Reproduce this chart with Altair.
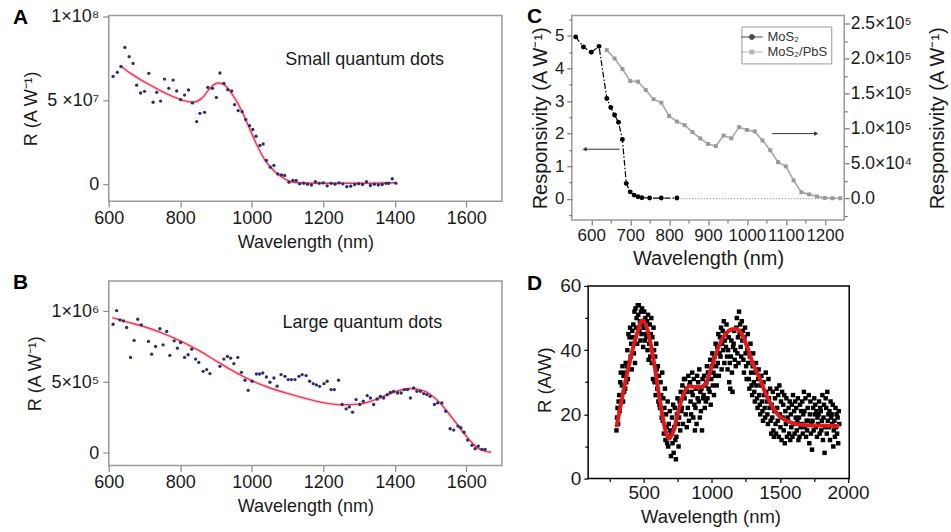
import altair as alt
import pandas as pd

FONT = "Liberation Sans"
INK = "#1a1a1a"

# ---------------- Panel A : small quantum dots ----------------
a_wavelength = [612, 624, 634, 645, 657, 668, 678, 689, 700, 712, 724, 734, 745, 756, 768, 780,
                790, 801, 812, 823, 834, 846, 855, 868, 877, 890, 901, 911, 922, 933, 944, 952,
                962, 973, 983, 994, 1003, 1012, 1023, 1032, 1041, 1052, 1062, 1073, 1083, 1092,
                1104, 1115, 1124, 1134, 1145, 1156, 1167, 1178, 1189, 1200, 1211, 1222, 1233,
                1244, 1255, 1266, 1277, 1288, 1299, 1310, 1321, 1332, 1343, 1354, 1365, 1376,
                1383, 1393, 1403]
a_resp_e7 = [6.41, 6.65, 7.0, 8.13, 7.58, 7.18, 5.89, 5.42, 5.52, 6.59, 4.87, 5.46, 4.94, 6.25,
             5.70, 6.19, 5.54, 5.03, 5.30, 5.60, 4.83, 3.72, 4.21, 4.27, 5.76, 5.70, 5.16, 6.61,
             5.99, 5.62, 5.54, 4.73, 4.37, 4.31, 3.84, 3.48, 3.25, 2.85, 2.30, 2.39, 1.41, 1.01,
             1.11, 0.61, 0.55, 0.52, 0.12, 0.22, 0.22, 0.02, 0.06, 0.0, -0.05, 0.15, 0.05, 0.08,
             -0.1, 0.05, 0.0, 0.08, 0.02, -0.15, -0.12, -0.02, 0.03, -0.02, 0.15, -0.08, 0.0,
             -0.05, -0.02, 0.05, 0.05, 0.32, 0.06]
a_fit_wavelength = [635, 660, 690, 720, 750, 780, 810, 835, 860, 885, 905, 920, 945, 970, 992,
                    1015, 1038, 1062, 1085, 1108, 1136, 1200, 1300, 1400]
a_fit_e7 = [7.0, 6.6, 6.2, 5.85, 5.5, 5.2, 4.97, 4.87, 5.1, 5.75, 6.02, 5.95, 5.36, 4.45, 3.4,
            2.3, 1.4, 0.8, 0.42, 0.16, 0.08, 0.05, 0.05, 0.08]

# ---------------- Panel B : large quantum dots ----------------
b_wavelength = [612, 622, 631, 641, 650, 661, 671, 681, 691, 711, 720, 731, 743, 752, 762, 771,
                783, 792, 801, 812, 822, 832, 843, 852, 864, 874, 883, 911, 922, 932, 941, 950,
                961, 971, 981, 990, 1001, 1013, 1022, 1031, 1041, 1051, 1062, 1071, 1082, 1093,
                1102, 1111, 1121, 1132, 1141, 1152, 1162, 1172, 1181, 1190, 1202, 1211, 1222,
                1231, 1243, 1253, 1264, 1273, 1282, 1292, 1302, 1312, 1323, 1332, 1341, 1351,
                1360, 1369, 1379, 1388, 1397, 1408, 1418, 1427, 1436, 1444, 1453, 1462, 1472,
                1481, 1490, 1499, 1511, 1520, 1532, 1543, 1555, 1565, 1577, 1585, 1594, 1604,
                1616, 1625, 1634, 1644, 1653]
b_resp_e6 = [0.908, 1.004, 0.939, 0.932, 0.885, 0.674, 0.794, 0.943, 0.904, 0.787, 0.697, 0.751,
             0.876, 0.763, 0.857, 0.688, 0.791, 0.739, 0.779, 0.674, 0.693, 0.732, 0.662, 0.639,
             0.576, 0.588, 0.560, 0.611, 0.662, 0.681, 0.669, 0.630, 0.674, 0.569, 0.513, 0.442,
             0.506, 0.557, 0.557, 0.564, 0.536, 0.499, 0.529, 0.471, 0.553, 0.541, 0.518, 0.518,
             0.518, 0.541, 0.553, 0.546, 0.506, 0.489, 0.48, 0.47, 0.489, 0.506, 0.447, 0.447,
             0.513, 0.342, 0.311, 0.325, 0.288, 0.377, 0.342, 0.365, 0.405, 0.388, 0.342, 0.381,
             0.40, 0.388, 0.412, 0.428, 0.435, 0.423, 0.423, 0.447, 0.447, 0.388, 0.459, 0.435,
             0.435, 0.419, 0.412, 0.40, 0.342, 0.353, 0.353, 0.295, 0.171, 0.162, 0.19, 0.178,
             0.147, 0.091, 0.054, 0.03, 0.049, 0.026, 0.026]
b_fit_wavelength = [610, 650, 700, 750, 800, 850, 900, 950, 1000, 1050, 1100, 1150, 1200, 1250,
                    1300, 1350, 1400, 1440, 1480, 1520, 1560, 1600, 1630, 1650, 1670]
b_fit_e6 = [0.955, 0.925, 0.89, 0.845, 0.79, 0.725, 0.65, 0.575, 0.51, 0.46, 0.42, 0.385, 0.355,
            0.34, 0.345, 0.38, 0.43, 0.455, 0.44, 0.37, 0.25, 0.12, 0.04, 0.015, 0.005]

# ---------------- Panel C : MoS2 vs MoS2/PbS ----------------
c_series = ["MoS\u2082", "MoS\u2082/PbS"]
c_mos2_wavelength = [560, 580, 600, 620, 640, 650, 660, 670, 680, 690, 700, 710, 720, 730, 750, 780, 820]
c_mos2_resp = [4.97, 4.66, 4.50, 4.68, 3.08, 2.80, 2.57, 2.35, 1.82, 0.47, 0.21, 0.11, 0.06, 0.03,
               0.02, 0.02, 0.02]
c_pbs_wavelength = [640, 660, 680, 700, 720, 740, 760, 780, 800, 820, 840, 860, 880, 900, 920, 940,
                    960, 980, 1000, 1020, 1040, 1060, 1080, 1100, 1120, 1140, 1160, 1180, 1200,
                    1220, 1240]
c_pbs_resp = [212000, 200000, 185000, 168000, 167000, 155000, 142000, 137000, 118000, 110000,
              105000, 95000, 86000, 78000, 75000, 90000, 86000, 102000, 98000, 96000, 83000,
              69000, 52000, 46000, 26000, 9000, 6000, 3000, 1000, 500, 500]
c_dotted_wavelength = [820, 1240]
c_dotted_resp = [0, 0]
c_arrow_start = [673, 1065]
c_arrow_end = [583, 1178]
c_arrow_level = [1.52, 2.0]
c_right_labels = {0: "0.0", 50000: "5.0\u00d710\u2074", 100000: "1.0\u00d710\u2075",
                  150000: "1.5\u00d710\u2075", 200000: "2.0\u00d710\u2075", 250000: "2.5\u00d710\u2075"}

# ---------------- Panel D : broadband scatter ----------------
d_offsets = [0, 4, 8, 12, 16]
d_columns = [
    (300, [15, 19, 22, 17, 24]), (320, [26, 21, 30, 33, 24]), (340, [29, 35, 24, 32, 27]),
    (360, [33, 28, 36, 30, 35]), (380, [40, 31, 45, 36, 44]), (400, [47, 38, 42, 34, 46]),
    (420, [44, 48, 39, 52, 36]), (440, [53, 47, 50, 42, 54]), (460, [51, 54, 46, 49, 43]),
    (480, [52, 45, 53, 48, 41]), (500, [47, 52, 43, 50, 45]), (520, [44, 49, 40, 51, 37]),
    (540, [42, 48, 38, 45, 50]), (560, [36, 44, 31, 47, 40]), (580, [30, 38, 26, 42, 34]),
    (600, [28, 35, 24, 32, 23]), (620, [22, 30, 26, 19, 33]), (640, [18, 25, 14, 22, 28]),
    (660, [12, 20, 16, 11, 24]), (680, [10, 17, 13, 21, 15]), (700, [7, 14, 19, 11, 23]),
    (720, [8, 16, 22, 12, 6]), (740, [13, 20, 25, 17, 10]), (760, [19, 24, 15, 27, 21]),
    (780, [22, 29, 17, 26, 31]), (800, [25, 31, 20, 28, 16]), (820, [27, 22, 32, 18, 29]),
    (840, [30, 24, 20, 27, 33]), (860, [26, 19, 31, 23, 15]), (880, [22, 28, 17, 32, 25]),
    (900, [30, 24, 34, 19, 27]), (920, [21, 28, 15, 31, 25]), (940, [26, 32, 22, 29, 24]),
    (960, [30, 35, 25, 33, 28]), (980, [33, 27, 37, 23, 31]), (1000, [35, 39, 29, 33, 26]),
    (1020, [38, 32, 42, 35, 29]), (1040, [41, 36, 45, 32, 39]), (1060, [44, 38, 47, 34, 42]),
    (1080, [46, 40, 49, 36, 43]), (1100, [45, 41, 48, 38, 34]), (1120, [40, 44, 30, 36, 28]),
    (1140, [38, 43, 33, 27, 41]), (1160, [42, 46, 37, 40, 35]), (1180, [47, 50, 39, 44, 36]),
    (1200, [52, 45, 48, 41, 38]), (1220, [49, 43, 46, 37, 33]), (1240, [44, 47, 39, 35, 31]),
    (1260, [40, 45, 36, 31, 28]), (1280, [38, 42, 33, 29, 26]), (1300, [35, 39, 30, 27, 24]),
    (1320, [33, 36, 29, 25, 22]), (1340, [31, 34, 26, 23, 20]), (1360, [29, 32, 24, 21, 18]),
    (1380, [30, 26, 22, 19, 33]), (1400, [27, 24, 20, 17, 31]), (1420, [25, 22, 28, 18, 14]),
    (1440, [23, 19, 27, 15, 13]), (1460, [21, 25, 17, 14, 28]), (1480, [22, 18, 26, 13, 29]),
    (1500, [20, 16, 24, 12, 27]), (1520, [19, 23, 15, 26, 11]), (1540, [21, 17, 25, 13, 19]),
    (1560, [18, 22, 14, 24, 12]), (1580, [20, 16, 23, 13, 26]), (1600, [17, 21, 14, 24, 19]),
    (1620, [22, 15, 18, 25, 12]), (1640, [19, 13, 23, 16, 21]), (1660, [17, 24, 14, 20, 27]),
    (1680, [21, 16, 25, 13, 18]), (1700, [15, 22, 18, 26, 11]), (1720, [20, 24, 14, 17, 9]),
    (1740, [18, 22, 15, 25, 20]), (1760, [23, 16, 21, 13, 19]), (1780, [17, 20, 24, 14, 22]),
    (1800, [21, 15, 18, 26, 12]), (1820, [19, 23, 8, 16, 25]), (1840, [22, 14, 27, 18, 20]),
    (1860, [16, 21, 12, 24, 19]), (1880, [20, 17, 23, 10, 15]), (1900, [18, 13, 22, 16, 20]),
    (1920, [14, 19, 11, 21, 17]),
]
d_fit_wavelength = [300, 350, 400, 450, 490, 530, 580, 620, 660, 685, 720, 760, 800, 840, 880, 920,
                    960, 1000, 1050, 1100, 1150, 1180, 1220, 1260, 1300, 1350, 1400, 1450, 1500,
                    1550, 1600, 1700, 1800, 1935]
d_fit_resp = [16, 27, 37, 45, 49.3, 46, 35, 24, 15, 12.4, 15, 22, 27, 28.8, 28.5, 28.5, 30, 35, 41,
              45, 46.5, 46.6, 45, 41, 36, 31.5, 26, 22, 19.3, 18, 17.2, 16.6, 16.5, 16.4]
d_frame_wavelength = [92, 2009]
d_frame_resp = [0, 60]

# panel letters, placed in each panel's own data units
letters = ["A", "B", "C", "D"]
letter_x = [331.8, 331.8, 434.6, -357.5]
letter_y = [9.5e7, 1.155e6, 5.40, 58.75]


def label_expr(mapping):
    expr = "''"
    for v, t in mapping.items():
        expr = f"datum.value === {v} ? '{t}' : ({expr})"
    return expr


def axis(values, labels, title, fs, tfs, tick_color, tick_size, pad, tpad, major=None,
         minor_size=None, **kw):
    args = dict(values=values, labelExpr=label_expr(labels), title=title, domain=False,
                grid=False, labelFont=FONT, labelFontSize=fs, labelColor=INK,
                titleFont=FONT, titleFontSize=tfs, titleFontWeight="normal", titleColor=INK,
                tickColor=tick_color, tickWidth=1.2, labelPadding=pad, titlePadding=tpad,
                labelOverlap=False, labelFlush=False)
    if major is not None:
        test = "indexof([" + ",".join(str(m) for m in major) + "], datum.value) >= 0"
        args["tickSize"] = {"condition": {"test": test, "value": tick_size}, "value": minor_size}
    else:
        args["tickSize"] = tick_size
    args.update(kw)
    return alt.Axis(**args)


def letter_layer(i, x, y):
    df = pd.DataFrame({"w": [letter_x[i]], "r": [letter_y[i]], "t": [letters[i]]})
    return alt.Chart(df).mark_text(align="left", baseline="alphabetic", font=FONT, fontSize=21,
                                   fontWeight="bold", color="black").encode(x=x, y=y, text="t:N")


def qd_panel(px, py, fx, fy, scale, ydom, ylabels, note, note_xy, idx, height):
    pts = pd.DataFrame({"w": px, "r": [v * scale for v in py]})
    fit = pd.DataFrame({"w": fx, "r": [v * scale for v in fy]})
    txt = pd.DataFrame({"w": [note_xy[0]], "r": [note_xy[1] * scale], "t": [note]})
    xs = alt.Scale(domain=[600, 1700], nice=False, zero=False)
    ys = alt.Scale(domain=[ydom[0] * scale, ydom[1] * scale], nice=False, zero=False)
    xvals = [600, 800, 1000, 1200, 1400, 1600]
    xa = axis(xvals, {v: str(v) for v in xvals}, "Wavelength (nm)", 18, 18, "#8a8a8a", 6, 2, 6)
    ymap = {k * scale: v for k, v in ylabels.items()}
    ya = axis(list(ymap.keys()), ymap, "R (A W\u207b\u00b9)", 18, 18, "#8a8a8a", 6, 4, 6)
    x = alt.X("w:Q", scale=xs, axis=xa)
    y = alt.Y("r:Q", scale=ys, axis=ya)
    glow = alt.Chart(fit).mark_line(color="#f5a3ad", strokeWidth=4, opacity=0.35,
                                    interpolate="monotone").encode(x=x, y=y)
    line = alt.Chart(fit).mark_line(color="#e23a55", strokeWidth=1.4,
                                    interpolate="monotone").encode(x=x, y=y)
    dots = alt.Chart(pts).mark_circle(color="#2c2c72", size=11, opacity=1).encode(x=x, y=y)
    label = alt.Chart(txt).mark_text(align="left", baseline="middle", font=FONT, fontSize=18,
                                     color=INK).encode(x=x, y=y, text="t:N")
    return alt.layer(glow, line, dots, label, letter_layer(idx, x, y)).properties(
        width=394, height=height,
        view=alt.ViewBackground(stroke="#9a9a9a", strokeWidth=1.5))


panel_a = qd_panel(a_wavelength, a_resp_e7, a_fit_wavelength, a_fit_e7, 1e7, [-1.01, 10.03],
                   {0: "0", 5: "5 \u00d710\u2077", 10: "1\u00d710\u2078"},
                   "Small quantum dots", (1094, 7.36), 0, 186)
panel_b = qd_panel(b_wavelength, b_resp_e6, b_fit_wavelength, b_fit_e6, 1e6, [-0.0885, 1.213],
                   {0: "0", 0.5: "5\u00d710\u2075", 1: "1\u00d710\u2076"},
                   "Large quantum dots", (1086, 0.915), 1, 185)

# ---------------- Panel C ----------------
c_xs = alt.Scale(domain=[550, 1250], nice=False, zero=False)
c_left = alt.Scale(domain=[-0.657, 5.627], nice=False, zero=False)
c_right = alt.Scale(domain=[-30700, 261400], nice=False, zero=False)
c_xvals = list(range(600, 1201, 50))
c_xmajor = list(range(600, 1201, 100))
c_xaxis = axis(c_xvals, {v: str(v) for v in c_xmajor}, "Wavelength (nm)", 17, 20, "#777777",
               5, 2, 6, major=c_xmajor, minor_size=3)
c_lvals = [v / 2 for v in range(-1, 12)]
c_laxis = axis(c_lvals, {v: str(v) for v in range(0, 6)}, "Responsivity (A W\u207b\u00b9)", 17, 20,
               "#777777", 5, 3, 4, major=list(range(0, 6)), minor_size=3)
c_rvals = list(range(-25000, 250001, 25000))
c_raxis = axis(c_rvals, c_right_labels, "Responsivity (A W\u207b\u00b9)", 17.5, 20, "#777777", 5, 1,
               16, major=list(c_right_labels.keys()), minor_size=3, orient="right",
               titleAngle=270, titleBaseline="top")

mos2 = pd.DataFrame({"w": c_mos2_wavelength, "r": c_mos2_resp})
pbs = pd.DataFrame({"w": c_pbs_wavelength, "r": c_pbs_resp})
dotted = pd.DataFrame({"w": c_dotted_wavelength, "r": c_dotted_resp})
arrows = pd.DataFrame({"w0": c_arrow_start, "w1": c_arrow_end, "r": c_arrow_level})
cx = alt.X("w:Q", scale=c_xs, axis=c_xaxis)
cl = alt.Y("r:Q", scale=c_left, axis=c_laxis)
cr = alt.Y("r:Q", scale=c_right, axis=c_raxis)

left_layer = alt.layer(
    alt.Chart(dotted).mark_line(color="#9a9a9a", strokeWidth=1, strokeDash=[1.5, 1.5]).encode(x=cx, y=cl),
    alt.Chart(mos2).mark_line(color="black", strokeWidth=1.2, strokeDash=[6, 2, 1.5, 2]).encode(x=cx, y=cl),
    alt.Chart(mos2).mark_circle(color="black", size=24, opacity=1).encode(x=cx, y=cl),
    alt.Chart(arrows).mark_rule(color="#333333", strokeWidth=1).encode(
        x=alt.X("w0:Q", scale=c_xs, axis=c_xaxis), x2="w1:Q", y=cl),
    alt.Chart(arrows.iloc[[0]]).mark_point(shape="triangle-left", filled=True, color="#333333",
                                           size=22, opacity=1).encode(
        x=alt.X("w1:Q", scale=c_xs, axis=c_xaxis), y=cl),
    alt.Chart(arrows.iloc[[1]]).mark_point(shape="triangle-right", filled=True, color="#333333",
                                           size=22, opacity=1).encode(
        x=alt.X("w1:Q", scale=c_xs, axis=c_xaxis), y=cl),
    letter_layer(2, cx, cl),
)
right_layer = alt.layer(
    alt.Chart(pbs).mark_line(color="#a8a8a8", strokeWidth=1.6).encode(x=cx, y=cr),
    alt.Chart(pbs).mark_square(color="#9a9a9a", size=16, opacity=1).encode(x=cx, y=cr),
)
sym_circle = "M-1.8,0H1.8M-0.42,0A0.42,0.42,0,1,0,0.42,0A0.42,0.42,0,1,0,-0.42,0Z"
sym_square = "M-1.8,0H1.8M-0.33,-0.33H0.33V0.33H-0.33Z"
leg_df = pd.DataFrame({"series": c_series, "w": [2000, 2000], "r": [0, 0]})
# legend position is measured from the top-level view origin (panel A's plot corner)
leg = alt.Legend(orient="none", legendX=634, legendY=11, title=None, labelFont=FONT,
                 labelFontSize=13, labelColor="#333333", strokeColor="#9a9a9a",
                 fillColor="white", padding=4, rowPadding=1, labelOffset=9, symbolSize=144,
                 symbolStrokeWidth=1)
legend_layer = alt.Chart(leg_df).mark_point(filled=True, clip=True, strokeWidth=1).encode(
    x=alt.X("w:Q", scale=c_xs, axis=c_xaxis),
    y=alt.Y("r:Q", axis=None),
    color=alt.Color("series:N", scale=alt.Scale(domain=c_series, range=["black", "#9a9a9a"]), legend=leg),
    stroke=alt.Stroke("series:N", scale=alt.Scale(domain=c_series, range=["black", "#9a9a9a"]), legend=leg),
    shape=alt.Shape("series:N", scale=alt.Scale(domain=c_series, range=[sym_circle, sym_square]), legend=leg),
)
panel_c = alt.layer(left_layer, right_layer, legend_layer).resolve_scale(y="independent").properties(
    width=273, height=205, view=alt.ViewBackground(stroke="#9a9a9a", strokeWidth=1.5))

# ---------------- Panel D ----------------
d_w, d_r = [], []
for base, vals in d_columns:
    for off, v in zip(d_offsets, vals):
        d_w.append(base + off)
        d_r.append(v)
d_pts = pd.DataFrame({"w": d_w, "r": d_r})
d_fit = pd.DataFrame({"w": d_fit_wavelength, "r": d_fit_resp})
d_frame = pd.DataFrame({"w": [d_frame_wavelength[0]], "w2": [d_frame_wavelength[1]],
                        "r": [d_frame_resp[0]], "r2": [d_frame_resp[1]]})
d_xvals = list(range(250, 2001, 250))
d_xmajor = [500, 1000, 1500, 2000]
d_xaxis = axis(d_xvals, {v: str(v) for v in d_xmajor}, "Wavelength (nm)", 19, 18.5, "black", 4,
               1, 5, major=d_xmajor, minor_size=3)
d_yvals = list(range(0, 61, 10))
d_ymajor = [0, 20, 40, 60]
d_yaxis = axis(d_yvals, {v: str(v) for v in d_ymajor}, "R (A/W)", 19, 18.5, "black", 4, 3, 5,
               major=d_ymajor, minor_size=3, offset=-16)
dx_ = alt.X("w:Q", scale=alt.Scale(domain=[-28, 2009], nice=False, zero=False), axis=d_xaxis)
dy_ = alt.Y("r:Q", scale=alt.Scale(domain=[0, 61.55], nice=False, zero=False), axis=d_yaxis)
panel_d = alt.layer(
    alt.Chart(d_frame).mark_rect(fill="white", fillOpacity=0, stroke="black", strokeWidth=1.5).encode(
        x=dx_, x2="w2:Q", y=dy_, y2="r2:Q"),
    alt.Chart(d_pts).mark_square(color="black", size=20, opacity=1).encode(x=dx_, y=dy_),
    alt.Chart(d_fit).mark_line(color="#e01a1a", strokeWidth=4, interpolate="monotone").encode(x=dx_, y=dy_),
    letter_layer(3, dx_, dy_),
).properties(width=278, height=198, view=alt.ViewBackground(strokeOpacity=0))

chart = alt.concat(panel_a, panel_c, panel_b, panel_d, columns=2, bounds="flush",
                   spacing={"row": 61, "column": 70}).properties(
    padding={"left": 12, "top": 4, "right": 2, "bottom": 2}, background="white")

chart.save("out.html", embed_options={"renderer": "svg", "actions": False})
